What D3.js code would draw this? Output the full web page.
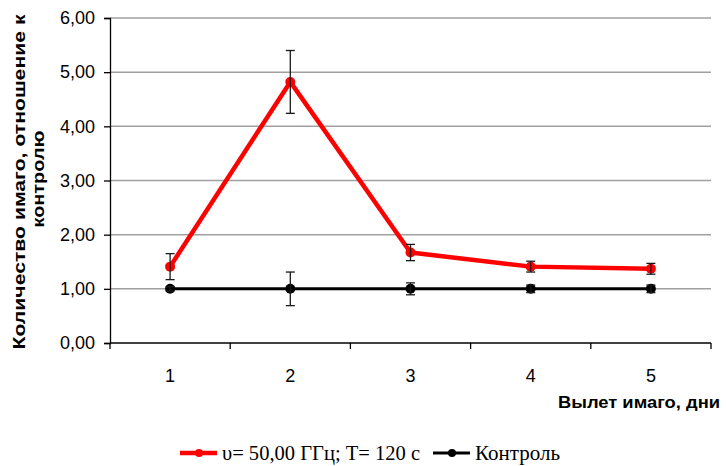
<!DOCTYPE html>
<html>
<head>
<meta charset="utf-8">
<script src="https://cdn.jsdelivr.net/npm/d3@7"></script>
<style>
  body { margin: 0; background: #fff; }
  svg { display: block; }
</style>
</head>
<body>
<div id="container"></div>
<script>
// ------------------------------------------------------
// DATA

const days = ["1", "2", "3", "4", "5"]
const yTicks = [0, 1, 2, 3, 4, 5, 6]

const treated = [1.41, 4.82, 1.67, 1.41, 1.37]
const treatedErr = [0.24, 0.58, 0.15, 0.10, 0.10]

const control = [1.00, 1.00, 1.00, 1.00, 1.00]
const controlErr = [0.04, 0.31, 0.11, 0.07, 0.07]

const seriesNames = ["υ= 50,00 ГГц; T= 120 с", "Контроль"]

// ------------------------------------------------------
// SETUP

const width = 726
const height = 466
const margin = {top: 18, right: 15, bottom: 123, left: 110}
const sans = 'Liberation Sans, Arial, sans-serif'

const svg = d3.select('#container').append('svg')
  .attr('width', width)
  .attr('height', height)

const x = d3.scaleBand()
  .domain(days)
  .range([margin.left, width - margin.right])

const y = d3.scaleLinear()
  .domain([0, 6])
  .range([height - margin.bottom, margin.top])

const fmt = d => d.toFixed(2).replace('.', ',')

// gridlines
svg.append('g')
  .selectAll('line')
  .data(yTicks.filter(d => d > 0))
  .join('line')
    .attr('x1', margin.left)
    .attr('x2', width - margin.right)
    .attr('y1', d => y(d))
    .attr('y2', d => y(d))
    .attr('stroke', '#a0a0a0')
    .attr('stroke-width', 1.5)

// y axis
const yAxis = svg.append('g')
  .attr('transform', `translate(${margin.left},0)`)
  .call(d3.axisLeft(y).tickValues(yTicks).tickFormat(fmt).tickSize(6).tickPadding(9))
yAxis.selectAll('text')
  .attr('font-family', sans)
  .attr('font-size', 18)
  .attr('fill', '#000')
yAxis.selectAll('path, line').attr('stroke', '#000').attr('stroke-width', 1.3)

// x axis: ticks on category boundaries
const xAxis = svg.append('g')
  .attr('transform', `translate(0,${y(0)})`)
xAxis.append('line')
  .attr('x1', margin.left)
  .attr('x2', width - margin.right)
  .attr('stroke', '#000')
  .attr('stroke-width', 1.5)
xAxis.selectAll('.tick-mark')
  .data(days.map(d => x(d)).concat([x(days[days.length - 1]) + x.bandwidth()]))
  .join('line')
    .attr('class', 'tick-mark')
    .attr('x1', d => d)
    .attr('x2', d => d)
    .attr('y1', 0)
    .attr('y2', 6)
    .attr('stroke', '#000')
    .attr('stroke-width', 1.3)
xAxis.selectAll('text')
  .data(days)
  .join('text')
    .attr('x', d => x(d) + x.bandwidth() / 2)
    .attr('y', 39)
    .attr('text-anchor', 'middle')
    .attr('font-family', sans)
    .attr('font-size', 18)
    .text(d => d)

// axis titles
svg.append('text')
  .attr('transform', 'translate(25,182) rotate(-90)')
  .attr('text-anchor', 'middle')
  .attr('font-family', sans)
  .attr('font-weight', 'bold')
  .attr('font-size', 17)
  .attr('textLength', 335)
  .attr('lengthAdjust', 'spacingAndGlyphs')
  .text('Количество имаго, отношение к')
svg.append('text')
  .attr('transform', 'translate(44,179) rotate(-90)')
  .attr('text-anchor', 'middle')
  .attr('font-family', sans)
  .attr('font-weight', 'bold')
  .attr('font-size', 17)
  .attr('textLength', 97)
  .attr('lengthAdjust', 'spacingAndGlyphs')
  .text('контролю')

svg.append('text')
  .attr('x', 558)
  .attr('y', 408)
  .attr('font-family', sans)
  .attr('font-weight', 'bold')
  .attr('font-size', 16)
  .attr('textLength', 162)
  .attr('lengthAdjust', 'spacingAndGlyphs')
  .text('Вылет имаго, дни')

// ------------------------------------------------------
// SERIES

const cx = (d, i) => x(days[i]) + x.bandwidth() / 2

function drawSeries(values, color, lineWidth) {
  const g = svg.append('g')
  const line = d3.line()
    .x((d, i) => cx(d, i))
    .y(d => y(d))
  g.append('path')
    .datum(values)
    .attr('d', line)
    .attr('fill', 'none')
    .attr('stroke', color)
    .attr('stroke-width', lineWidth)
    .attr('stroke-linejoin', 'round')
  g.selectAll('circle')
    .data(values)
    .join('circle')
      .attr('cx', cx)
      .attr('cy', d => y(d))
      .attr('r', 5)
      .attr('fill', color)
  return g
}

function drawErrors(values, errs) {
  const g = svg.append('g')
    .attr('stroke', '#1a1a1a')
    .attr('stroke-width', 1.3)
  values.forEach((v, i) => {
    const xc = cx(v, i)
    const top = y(v + errs[i])
    const bot = y(v - errs[i])
    g.append('line').attr('x1', xc).attr('x2', xc).attr('y1', top).attr('y2', bot)
    g.append('line').attr('x1', xc - 4.5).attr('x2', xc + 4.5).attr('y1', top).attr('y2', top)
    g.append('line').attr('x1', xc - 4.5).attr('x2', xc + 4.5).attr('y1', bot).attr('y2', bot)
  })
}

drawSeries(control, '#000', 3)
drawSeries(treated, '#ff0000', 4.5)
drawErrors(control, controlErr)
drawErrors(treated, treatedErr)

// ------------------------------------------------------
// LEGEND

const legendY = 453
const legendItems = [
  {name: seriesNames[0], color: '#ff0000', w: 4.5, x0: 180, tw: 198},
  {name: seriesNames[1], color: '#000', w: 3, x0: 433, tw: 85}
]
const legend = svg.append('g')
legendItems.forEach(item => {
  legend.append('line')
    .attr('x1', item.x0)
    .attr('x2', item.x0 + 37)
    .attr('y1', legendY)
    .attr('y2', legendY)
    .attr('stroke', item.color)
    .attr('stroke-width', item.w)
  legend.append('circle')
    .attr('cx', item.x0 + 19)
    .attr('cy', legendY)
    .attr('r', 4)
    .attr('fill', item.color)
  legend.append('text')
    .attr('x', item.x0 + 42)
    .attr('y', legendY + 7)
    .attr('font-family', 'Liberation Serif, Times New Roman, serif')
    .attr('font-size', 20)
    .attr('textLength', item.tw)
    .attr('lengthAdjust', 'spacingAndGlyphs')
    .text(item.name)
})
</script>
</body>
</html>
